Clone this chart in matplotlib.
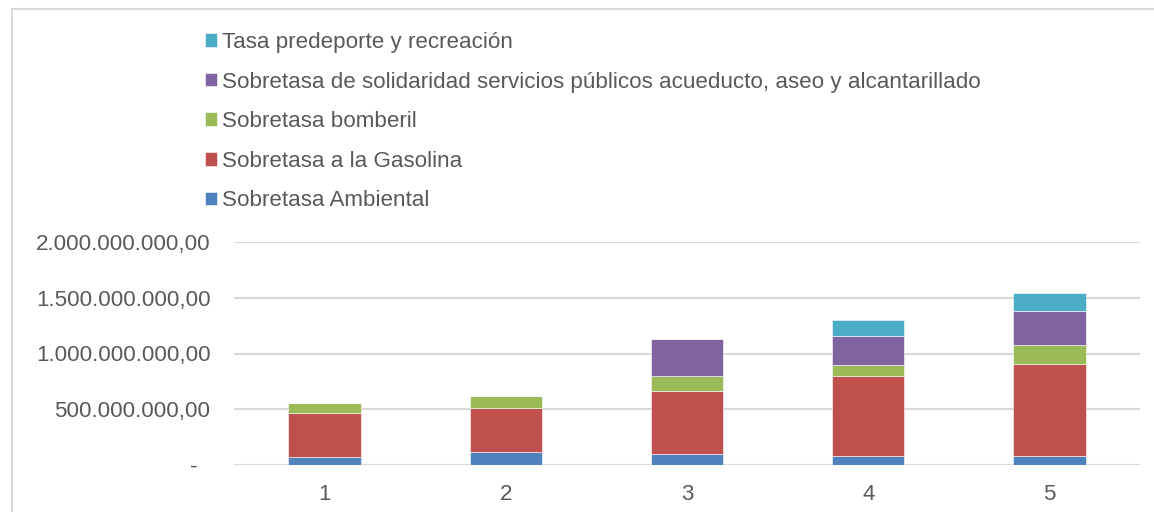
import matplotlib.pyplot as plt
import numpy as np
from matplotlib.patches import Rectangle
from matplotlib.ticker import FuncFormatter

plt.rcParams['font.family'] = ['Liberation Sans', 'DejaVu Sans']

periodos = ['1', '2', '3', '4', '5']
series = ['Sobretasa Ambiental', 'Sobretasa a la Gasolina', 'Sobretasa bomberil',
          'Sobretasa de solidaridad servicios públicos acueducto, aseo y alcantarillado',
          'Tasa predeporte y recreación']
ambiental = [69e6, 113e6, 102e6, 81e6, 85e6]
gasolina = [396e6, 400e6, 558e6, 719e6, 819e6]
bomberil = [94e6, 108e6, 137e6, 93e6, 168e6]
solidaridad = [0, 0, 332e6, 266e6, 308e6]
predeporte = [0, 0, 0, 137e6, 160e6]
colores = ['#4f81bd', '#c0504d', '#9bbb59', '#8064a2', '#4bacc6']

valores = [ambiental, gasolina, bomberil, solidaridad, predeporte]

fig = plt.figure(figsize=(11.54, 5.12), dpi=100)
ax = fig.add_axes([234 / 1154, 1 - 465 / 512, (1140 - 234) / 1154, (465 - 242) / 512])

x = np.arange(1, 6)
base = np.zeros(5)
handles = []
for nombre, vals, c in zip(series, valores, colores):
    vals = np.array(vals)
    b = ax.bar(x, vals, width=0.4, bottom=base, color=c, edgecolor='white',
               linewidth=0.4, label=nombre, zorder=3)
    handles.append(b)
    base = base + vals

ax.set_xlim(0.5, 5.5)
ax.set_ylim(0, 2e9)
ax.set_yticks([0, 5e8, 1e9, 1.5e9, 2e9])


def fmt(v, pos):
    if v == 0:
        return '-  '
    s = f'{v:,.2f}'
    return s.replace(',', 'X').replace('.', ',').replace('X', '.')


ax.yaxis.set_major_formatter(FuncFormatter(fmt))
ax.set_xticks(x)
ax.set_xticklabels(periodos)
ax.grid(axis='y', color='#d9d9d9', linewidth=1.5, zorder=0)
for s in ax.spines.values():
    s.set_visible(False)
ax.tick_params(length=0, labelsize=16.1, colors='#595959', pad=17)
ax.tick_params(axis='x', pad=14)

# leyenda
leg = fig.legend(handles[::-1], series[::-1], loc='upper left',
                 bbox_to_anchor=(205 / 1154, 1 - 32 / 512), frameon=False,
                 fontsize=16.1, labelcolor='#595959', handlelength=0.55,
                 handleheight=0.55, handletextpad=0.22, labelspacing=0.83,
                 borderaxespad=0, borderpad=0)

# marco del grafico
fig.patches.append(Rectangle((12 / 1154, -0.1), 1.2, 1.1 - 9 / 512,
                             transform=fig.transFigure, fill=False,
                             edgecolor='#d9d9d9', linewidth=1.5))

fig.savefig('out.png', dpi=100)
